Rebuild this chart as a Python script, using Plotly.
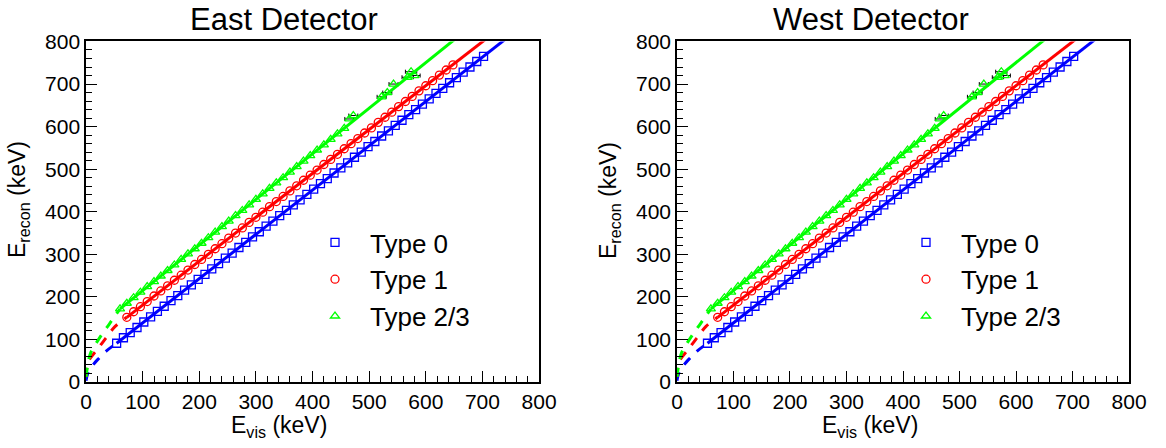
import plotly.graph_objects as go

# ---- measured points: E_vis (keV) vs reconstructed energy (keV) ----
type0_evis = [54, 66, 78, 90, 102, 114, 126, 138, 150, 162, 174, 186, 198, 210, 222, 234, 246, 258,
              270, 282, 294, 306, 318, 330, 342, 354, 366, 378, 390, 402, 414, 426, 438, 450, 462,
              474, 486, 498, 510, 522, 534, 546, 558, 570, 582, 594, 606, 618, 630, 642, 654, 666,
              678, 690, 702]
type0_erec = [91, 104, 116, 128, 141, 153, 166, 178, 191, 203, 216, 228, 241, 253, 266, 278, 291, 303,
              316, 328, 341, 353, 366, 378, 391, 403, 416, 428, 441, 453, 466, 478, 491, 503, 515,
              528, 540, 553, 565, 578, 590, 603, 615, 628, 640, 653, 665, 678, 690, 703, 715, 728,
              740, 753, 765]

type1_evis = [72, 84, 96, 108, 120, 132, 144, 156, 168, 180, 192, 204, 216, 228, 240, 252, 264, 276,
              288, 300, 312, 324, 336, 348, 360, 372, 384, 396, 408, 420, 432, 444, 456, 468, 480,
              492, 504, 516, 528, 540, 552, 564, 576, 588, 600, 612, 624, 636, 648]
type1_erec = [152, 165, 177, 189, 202, 214, 226, 239, 251, 263, 276, 288, 300, 313, 325, 338, 350, 362,
              375, 387, 399, 412, 424, 436, 449, 461, 474, 486, 498, 511, 523, 535, 548, 560, 572,
              585, 597, 610, 622, 634, 647, 659, 671, 684, 696, 708, 721, 733, 745]

type23_evis = [60, 72, 84, 96, 108, 120, 132, 144, 156, 168, 180, 192, 204, 216, 228, 240, 252, 264,
               276, 288, 300, 312, 324, 336, 348, 360, 372, 384, 396, 408, 420, 432, 444, 456]
type23_erec = [172, 185, 198, 211, 224, 236, 249, 262, 275, 288, 301, 313, 326, 339, 352, 365, 378, 391,
               403, 416, 429, 442, 455, 468, 480, 493, 506, 519, 532, 545, 557, 570, 583, 596]

# calibration-source points (type 2/3) with horizontal uncertainties
src_evis = [465, 472, 522, 532, 543, 568, 574, 580]
src_erec = [618, 626, 670, 680, 700, 716, 729, 720]
src_err = [8, 8, 8, 8, 8, 10, 10, 10]

# ---- fitted calibration curves ----
fit0_low_x = [0, 3, 10, 20, 35, 54]
fit0_low_y = [3, 20, 36, 52, 72, 91]
fit0_x = [54, 745]
fit0_y = [91, 810]

fit1_low_x = [0, 4, 19, 35, 51, 72]
fit1_low_y = [12, 48, 75, 103, 130, 152]
fit1_x = [72, 720]
fit1_y = [152, 820]

fit23_low_x = [0, 3, 8, 25, 42, 60]
fit23_low_y = [12, 40, 68, 106, 138, 172]
fit23_x = [60, 680]
fit23_y = [172, 836]

panels = ["East Detector", "West Detector"]
series_names = ["Type 0", "Type 1", "Type 2/3"]
colors = ["#0000ff", "#ff0000", "#00ff00"]
symbols = ["square-open", "circle-open", "triangle-up-open"]

FONT = "Liberation Sans, Arial, sans-serif"

fig = go.Figure()

x_domains = [[0.0738, 0.4623], [0.5806, 0.9683]]
y_domain = [0.1473, 0.9074]

points = [(type0_evis, type0_erec), (type1_evis, type1_erec), (type23_evis, type23_erec)]
fits_low = [(fit0_low_x, fit0_low_y), (fit1_low_x, fit1_low_y), (fit23_low_x, fit23_low_y)]
fits = [(fit0_x, fit0_y), (fit1_x, fit1_y), (fit23_x, fit23_y)]

for p, title in enumerate(panels):
    xa = "x" if p == 0 else "x2"
    ya = "y" if p == 0 else "y2"
    leg = "legend" if p == 0 else "legend2"
    for i in range(3):
        px, py = points[i]
        fig.add_trace(go.Scatter(
            x=px, y=py, xaxis=xa, yaxis=ya, mode="markers", name=series_names[i],
            legend=leg, legendgroup=f"{p}-{i}",
            marker=dict(symbol=symbols[i], size=8, color=colors[i], line=dict(width=1.3, color=colors[i])),
        ))
        if i == 2:
            fig.add_trace(go.Scatter(
                x=src_evis, y=src_erec, xaxis=xa, yaxis=ya, mode="markers", showlegend=False,
                marker=dict(symbol=symbols[i], size=8, color=colors[i], line=dict(width=1.3, color=colors[i])),
                error_x=dict(type="data", array=src_err, color="black", thickness=1, width=2),
            ))
    for i in range(3):
        lx, ly = fits_low[i]
        fig.add_trace(go.Scatter(
            x=lx, y=ly, xaxis=xa, yaxis=ya, mode="lines", showlegend=False,
            line=dict(color=colors[i], width=3, dash="dash", shape="spline"),
        ))
        fx, fy = fits[i]
        fig.add_trace(go.Scatter(
            x=fx, y=fy, xaxis=xa, yaxis=ya, mode="lines", showlegend=False,
            line=dict(color=colors[i], width=3),
        ))

axis_common = dict(
    range=[0, 800], dtick=100, tick0=0, showgrid=False, zeroline=False, automargin=False,
    showline=True, linecolor="black", linewidth=1.5, mirror=True,
    ticks="inside", ticklen=11, tickwidth=1.3, tickcolor="black",
    minor=dict(ticks="inside", ticklen=6, dtick=20, tickwidth=1.3, tickcolor="black", showgrid=False),
    tickfont=dict(family=FONT, size=21, color="black"),
)

legend_common = dict(xanchor="left", yanchor="top", bgcolor="rgba(0,0,0,0)",
                     font=dict(family=FONT, size=26), tracegroupgap=0, itemwidth=60)

fig.update_layout(
    width=1166, height=448, autosize=False,
    margin=dict(l=0, r=0, t=0, b=0),
    paper_bgcolor="white", plot_bgcolor="white",
    font=dict(family=FONT, color="black"),
    xaxis=dict(domain=x_domains[0], anchor="y", **axis_common),
    yaxis=dict(domain=y_domain, anchor="x", **axis_common),
    xaxis2=dict(domain=x_domains[1], anchor="y2", **axis_common),
    yaxis2=dict(domain=y_domain, anchor="x2", **axis_common),
    legend=dict(x=300 / 1166, y=1 - 219 / 448, **legend_common),
    legend2=dict(x=891 / 1166, y=1 - 219 / 448, **legend_common),
    showlegend=True,
)

annotations = []
title_x = [284, 871]
xlab_x = [279, 870]
for p in range(2):
    annotations.append(dict(text=panels[p], x=title_x[p] / 1166, y=1 - 20 / 448, xref="paper", yref="paper",
                            showarrow=False, font=dict(family=FONT, size=31), xanchor="center", yanchor="middle"))
    annotations.append(dict(text="E<sub>vis</sub> (keV)", x=xlab_x[p] / 1166, y=1 - 426 / 448,
                            xref="paper", yref="paper", showarrow=False,
                            font=dict(family=FONT, size=23), xanchor="center", yanchor="middle"))
    annotations.append(dict(text="E<sub>recon</sub> (keV)", x=[18, 609][p] / 1166, y=1 - 200 / 448,
                            xref="paper", yref="paper", showarrow=False, textangle=-90,
                            font=dict(family=FONT, size=23), xanchor="center", yanchor="middle"))
fig.update_layout(annotations=annotations)

fig.write_html("out.html")
